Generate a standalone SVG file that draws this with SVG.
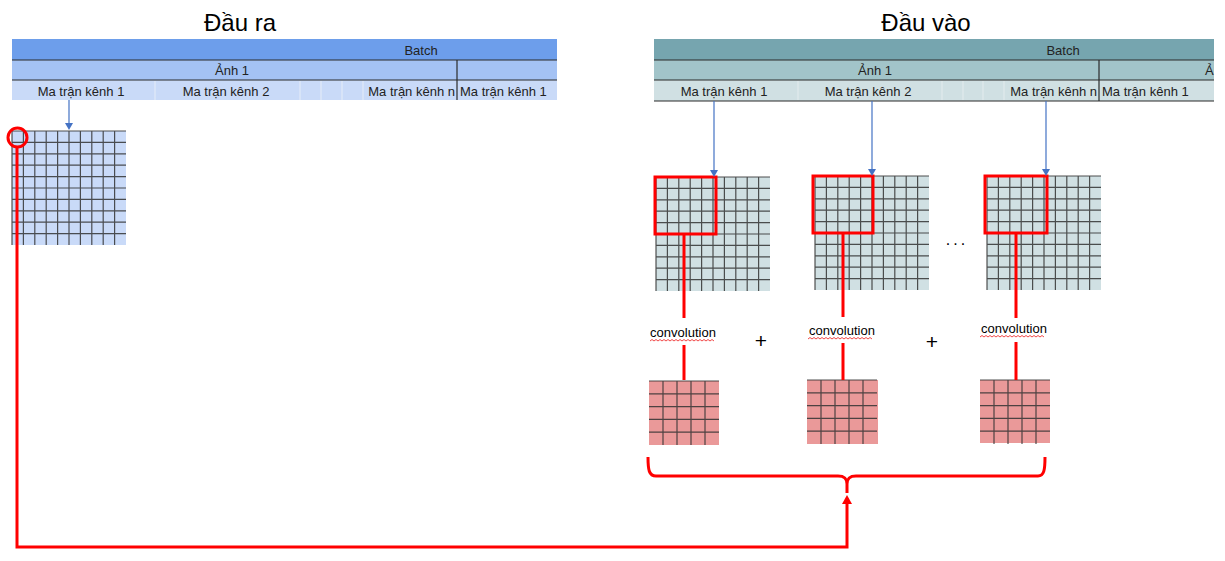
<svg xmlns="http://www.w3.org/2000/svg" xmlns:xlink="http://www.w3.org/1999/xlink" width="1225" height="561" viewBox="0 0 1225 561">
<style>
text{font-family:"Liberation Sans",Arial,sans-serif;fill:#000}
.title{font-size:24px;text-anchor:middle}
.cell{font-size:13px;fill:#222}
.mid{text-anchor:middle}
.end{text-anchor:end}
.dark{stroke:#2b2b2b;stroke-width:1.2}
.lite{stroke:#e6edf8;stroke-width:1}
.lite2{stroke:#e4ecee;stroke-width:1}
.grid{fill:none;stroke:#333;stroke-width:1.2;stroke-opacity:0.85}
.red{fill:none;stroke:#ff0000;stroke-width:3}
.blue{fill:none;stroke:#4472c4;stroke-width:1.2}
.conv{font-size:13px;text-anchor:middle}
.wavy{fill:none;stroke:#e33;stroke-width:0.9}
.op{font-size:21px;text-anchor:middle}
</style>
<defs>
<marker id="ab" markerUnits="userSpaceOnUse" markerWidth="8" markerHeight="8" refX="0" refY="4" orient="auto"><path d="M0 0L7 4L0 8z" fill="#4472c4"/></marker>
<marker id="ar" markerUnits="userSpaceOnUse" markerWidth="10" markerHeight="10" refX="0" refY="5" orient="auto"><path d="M0 0L9 5L0 10z" fill="#ff0000"/></marker>
<path id="big" d="M0 0V114M11.4 0V114M22.8 0V114M34.2 0V114M45.6 0V114M57 0V114M68.4 0V114M79.8 0V114M91.2 0V114M102.6 0V114M0 0H114M0 11.4H114M0 22.8H114M0 34.2H114M0 45.6H114M0 57H114M0 68.4H114M0 79.8H114M0 91.2H114M0 102.6H114"/>
<path id="small" d="M14 0V64M28 0V64M42 0V64M56 0V64M0 0H70M0 12.8H70M0 25.6H70M0 38.4H70M0 51.2H70"/>
<path id="squig" d="M0 0l2 -1.5l2 1.5l2 -1.5l2 1.5l2 -1.5l2 1.5l2 -1.5l2 1.5l2 -1.5l2 1.5l2 -1.5l2 1.5l2 -1.5l2 1.5l2 -1.5l2 1.5l2 -1.5l2 1.5l2 -1.5l2 1.5l2 -1.5l2 1.5l2 -1.5l2 1.5l2 -1.5l2 1.5l2 -1.5l2 1.5l2 -1.5l2 1.5l2 -1.5l2 1.5"/>
</defs>

<g id="title-output"><text class="title" x="240" y="31">Đầu ra</text></g>
<g id="title-input"><text class="title" x="926" y="31">Đầu vào</text></g>

<g id="table-output">
<rect x="12" y="39" width="545" height="21" fill="#6d9eeb"/>
<rect x="12" y="60" width="545" height="20" fill="#a4c2f4"/>
<rect x="12" y="80" width="545" height="20" fill="#c9daf8"/>
<path class="lite" d="M155 81V100M300 81V100M321 81V100M342 81V100M363 81V100"/>
<path class="dark" d="M12 60H557M12 80H557M457 60V100"/>
<text class="cell mid" x="421" y="55">Batch</text>
<text class="cell mid" x="232" y="75">Ảnh 1</text>
<text class="cell mid" x="81" y="96">Ma trận kênh 1</text>
<text class="cell mid" x="226" y="96">Ma trận kênh 2</text>
<text class="cell end" x="455" y="96">Ma trận kênh n</text>
<text class="cell" x="460" y="96">Ma trận kênh 1</text>
</g>

<g id="table-input">
<rect x="654" y="39" width="560" height="21" fill="#76a5af"/>
<rect x="654" y="60" width="560" height="20" fill="#a2c4c9"/>
<rect x="654" y="80" width="560" height="21" fill="#d0e0e3"/>
<path class="lite2" d="M798 81V100M942 81V100M963 81V100M983 81V100M1004 81V100"/>
<path class="dark" d="M654 60H1214M654 80H1214M654 101H1214M1099 60V101"/>
<text class="cell mid" x="1063" y="55">Batch</text>
<text class="cell mid" x="875" y="75">Ảnh 1</text>
<text class="cell" x="1205" y="75">Ả</text>
<text class="cell mid" x="724" y="96">Ma trận kênh 1</text>
<text class="cell mid" x="868" y="96">Ma trận kênh 2</text>
<text class="cell end" x="1097" y="96">Ma trận kênh n</text>
<text class="cell" x="1102" y="96">Ma trận kênh 1</text>
</g>

<g id="output-matrix">
<rect x="12" y="131" width="114" height="114" fill="#c9daf8"/>
<use xlink:href="#big" href="#big" x="12" y="131" class="grid"/>
</g>

<g id="input-matrix-1">
<rect x="656" y="177" width="114" height="114" fill="#d0e0e3"/>
<use xlink:href="#big" href="#big" x="656" y="177" class="grid"/>
<rect class="red" x="655" y="177" width="61" height="57"/>
</g>
<g id="input-matrix-2">
<rect x="815" y="176" width="114" height="114" fill="#d0e0e3"/>
<use xlink:href="#big" href="#big" x="815" y="176" class="grid"/>
<rect class="red" x="813" y="176" width="60" height="57"/>
</g>
<g id="input-matrix-3">
<rect x="987" y="176" width="114" height="114" fill="#d0e0e3"/>
<use xlink:href="#big" href="#big" x="987" y="176" class="grid"/>
<rect class="red" x="985" y="176" width="62" height="57"/>
</g>
<g id="ellipsis"><text x="957" y="245" font-size="16" letter-spacing="3" text-anchor="middle">...</text></g>

<g id="kernel-1">
<rect x="649" y="381" width="70" height="64" fill="#ea9999"/>
<use xlink:href="#small" href="#small" x="649" y="381" class="grid"/>
</g>
<g id="kernel-2">
<rect x="807" y="380" width="71" height="64" fill="#ea9999"/>
<use xlink:href="#small" href="#small" x="807" y="380" class="grid"/>
</g>
<g id="kernel-3">
<rect x="980" y="380" width="70" height="63" fill="#ea9999"/>
<use xlink:href="#small" href="#small" x="980" y="380" class="grid"/>
</g>

<g id="conv-1"><text class="conv" x="683" y="337">convolution</text><use xlink:href="#squig" href="#squig" x="650" y="341" class="wavy"/></g>
<g id="conv-2"><text class="conv" x="842" y="335">convolution</text><use xlink:href="#squig" href="#squig" x="808" y="339" class="wavy"/></g>
<g id="conv-3"><text class="conv" x="1014" y="333">convolution</text><use xlink:href="#squig" href="#squig" x="980" y="337" class="wavy"/></g>
<g id="plus-1"><text class="op" x="761" y="348">+</text></g>
<g id="plus-2"><text class="op" x="932" y="349">+</text></g>

<g id="connectors">
<path class="blue" d="M69 100V123" marker-end="url(#ab)"/>
<path class="blue" d="M714 101V170" marker-end="url(#ab)"/>
<path class="blue" d="M872 101V169" marker-end="url(#ab)"/>
<path class="blue" d="M1046 101V169" marker-end="url(#ab)"/>
<path class="red" d="M684 235V318M684 345V380"/>
<path class="red" d="M843 233V317M843 343V380"/>
<path class="red" d="M1016 233V318M1016 342V380"/>
<path class="red" d="M648 457C648 470 649 476 656 476L838 476C844 476 847 478 847 484L847 493M847 484C847 478 850 476 856 476L1038 476C1044 476 1045 470 1045 457"/>
<circle class="red" cx="17.5" cy="137.5" r="9.5"/>
<path class="red" d="M17 147V547H847V504" marker-end="url(#ar)"/>
</g>
</svg>
